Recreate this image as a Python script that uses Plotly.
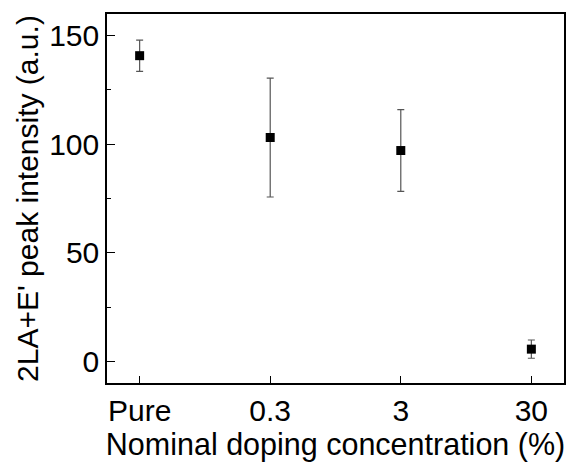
import plotly.graph_objects as go

categories = ["Pure", "0.3", "3", "30"]
intensity = [140.8, 103.1, 97.1, 5.6]
err = [7.2, 27.4, 18.8, 4.2]

fig = go.Figure()
fig.add_trace(go.Scatter(
    x=list(range(len(categories))), y=intensity,
    mode="markers",
    marker=dict(symbol="square", size=9, color="black"),
    error_y=dict(type="data", array=err, visible=True, color="#555555", thickness=1.2, width=3.5),
    showlegend=False,
))

font = "Liberation Sans, Arial, sans-serif"
fig.update_layout(
    width=568, height=472,
    margin=dict(l=107, r=2, t=14, b=89),
    paper_bgcolor="white", plot_bgcolor="white",
    font=dict(family=font, size=30, color="black"),
)
fig.update_xaxes(
    range=[-0.25, 3.25],
    tickmode="array", tickvals=list(range(len(categories))), ticktext=categories,
    ticks="inside", ticklen=7, tickwidth=1.2, tickcolor="black",
    showline=True, linecolor="black", linewidth=1.5, mirror=True,
    showgrid=False, zeroline=False,
    title=dict(text="Nominal doping concentration (%)", standoff=7, font=dict(size=30.5)),
    tickfont=dict(size=30),
)
fig.update_yaxes(
    range=[-10, 160],
    tickmode="array", tickvals=[0, 50, 100, 150],
    ticks="inside", ticklen=8, tickwidth=1.2, tickcolor="black",
    minor=dict(tickvals=[25, 75, 125], ticks="inside", ticklen=4, tickwidth=1.2, tickcolor="black"),
    showline=True, linecolor="black", linewidth=1.5, mirror=True,
    showgrid=False, zeroline=False,
    title=dict(text="2LA+E' peak intensity (a.u.)", standoff=2, font=dict(size=30)),
    tickfont=dict(size=30),
)
fig.write_html("out.html")
